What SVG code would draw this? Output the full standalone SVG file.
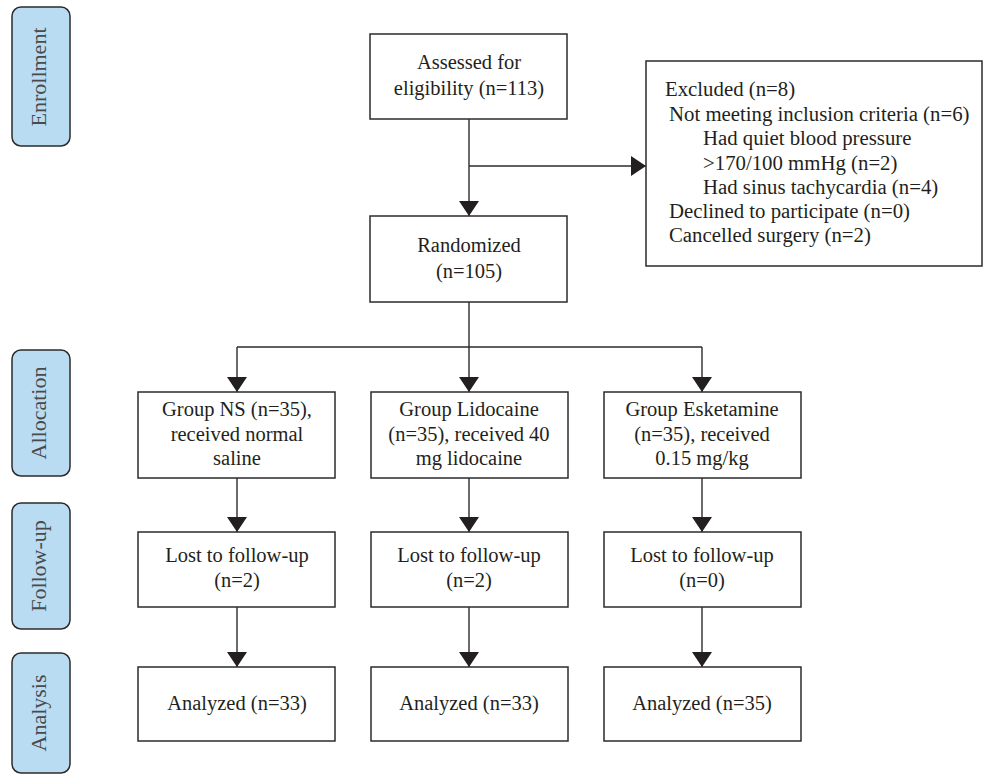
<svg xmlns="http://www.w3.org/2000/svg" width="984" height="775" viewBox="0 0 984 775">
<style>
  .box { fill: #ffffff; stroke: #2b2b2b; stroke-width: 1.5; }
  .pill { fill: #b9dcf3; stroke: #2b2b2b; stroke-width: 1.5; }
  .t { font-family: "Liberation Serif", "Times New Roman", serif; font-size: 20.5px; fill: #231f20; }
  .c { text-anchor: middle; }
  .pt { font-family: "Liberation Serif", "Times New Roman", serif; font-size: 22px; fill: #4a4a4a; text-anchor: middle; }
  .ln { fill: none; stroke: #2b2b2b; stroke-width: 1.4; }
</style>
<defs>
  <marker id="arr" viewBox="0 0 15 20" refX="15" refY="10" markerWidth="15" markerHeight="20" markerUnits="userSpaceOnUse" orient="auto">
    <path d="M0,0 L15,10 L0,20 Z" fill="#231f20"/>
  </marker>
</defs>
<rect width="984" height="775" fill="#ffffff"/>

<g id="stage-enrollment">
  <rect class="pill" x="12" y="7" width="58" height="139" rx="9"/>
  <text class="pt" transform="translate(46,77) rotate(-90)">Enrollment</text>
</g>
<g id="stage-allocation">
  <rect class="pill" x="12" y="350" width="58" height="126" rx="9"/>
  <text class="pt" transform="translate(46,413) rotate(-90)">Allocation</text>
</g>
<g id="stage-followup">
  <rect class="pill" x="12" y="503" width="58" height="126" rx="9"/>
  <text class="pt" transform="translate(46,566) rotate(-90)">Follow-up</text>
</g>
<g id="stage-analysis">
  <rect class="pill" x="12" y="653" width="58" height="120" rx="9"/>
  <text class="pt" transform="translate(46,713) rotate(-90)">Analysis</text>
</g>

<g id="connectors">
  <line class="ln" x1="469" y1="119" x2="469" y2="216" marker-end="url(#arr)"/>
  <line class="ln" x1="469" y1="166" x2="646" y2="166" marker-end="url(#arr)"/>
  <polyline class="ln" points="469,302 469,347"/>
  <polyline class="ln" points="237,347 702,347"/>
  <line class="ln" x1="237" y1="347" x2="237" y2="392" marker-end="url(#arr)"/>
  <line class="ln" x1="469" y1="347" x2="469" y2="392" marker-end="url(#arr)"/>
  <line class="ln" x1="702" y1="347" x2="702" y2="392" marker-end="url(#arr)"/>
  <line class="ln" x1="237" y1="478" x2="237" y2="532" marker-end="url(#arr)"/>
  <line class="ln" x1="469" y1="478" x2="469" y2="532" marker-end="url(#arr)"/>
  <line class="ln" x1="702" y1="478" x2="702" y2="532" marker-end="url(#arr)"/>
  <line class="ln" x1="237" y1="607" x2="237" y2="667" marker-end="url(#arr)"/>
  <line class="ln" x1="469" y1="607" x2="469" y2="667" marker-end="url(#arr)"/>
  <line class="ln" x1="702" y1="607" x2="702" y2="667" marker-end="url(#arr)"/>
</g>

<g id="assessed">
  <rect class="box" x="370" y="34" width="197" height="85"/>
  <text class="t c" x="469" y="69">Assessed for</text>
  <text class="t c" x="469" y="95">eligibility (n=113)</text>
</g>
<g id="excluded">
  <rect class="box" x="646" y="61" width="336" height="205"/>
  <text class="t" x="665" y="96" style="font-size:20.8px">Excluded (n=8)</text>
  <text class="t" x="669" y="120.5" style="font-size:20.8px">Not meeting inclusion criteria (n=6)</text>
  <text class="t" x="703" y="145" style="font-size:20.8px">Had quiet blood pressure</text>
  <text class="t" x="703" y="169.5" style="font-size:20.8px">&gt;170/100 mmHg (n=2)</text>
  <text class="t" x="703" y="193.5" style="font-size:20.8px">Had sinus tachycardia (n=4)</text>
  <text class="t" x="669" y="217.5" style="font-size:20.8px">Declined to participate (n=0)</text>
  <text class="t" x="669" y="241.5" style="font-size:20.8px">Cancelled surgery (n=2)</text>
</g>
<g id="randomized">
  <rect class="box" x="370" y="216" width="197" height="86"/>
  <text class="t c" x="469" y="252">Randomized</text>
  <text class="t c" x="469" y="278">(n=105)</text>
</g>

<g id="alloc-ns">
  <rect class="box" x="138" y="392" width="197" height="86"/>
  <text class="t c" x="237" y="416">Group NS (n=35),</text>
  <text class="t c" x="237" y="440.5">received normal</text>
  <text class="t c" x="237" y="465">saline</text>
</g>
<g id="alloc-lido">
  <rect class="box" x="371" y="392" width="197" height="86"/>
  <text class="t c" x="469" y="416">Group Lidocaine</text>
  <text class="t c" x="469" y="440.5">(n=35), received 40</text>
  <text class="t c" x="469" y="465">mg lidocaine</text>
</g>
<g id="alloc-esk">
  <rect class="box" x="604" y="392" width="197" height="86"/>
  <text class="t c" x="702" y="416">Group Esketamine</text>
  <text class="t c" x="702" y="440.5">(n=35), received</text>
  <text class="t c" x="702" y="465">0.15 mg/kg</text>
</g>

<g id="follow-ns">
  <rect class="box" x="138" y="532" width="197" height="75"/>
  <text class="t c" x="237" y="562">Lost to follow-up</text>
  <text class="t c" x="237" y="587">(n=2)</text>
</g>
<g id="follow-lido">
  <rect class="box" x="371" y="532" width="197" height="75"/>
  <text class="t c" x="469" y="562">Lost to follow-up</text>
  <text class="t c" x="469" y="587">(n=2)</text>
</g>
<g id="follow-esk">
  <rect class="box" x="604" y="532" width="197" height="75"/>
  <text class="t c" x="702" y="562">Lost to follow-up</text>
  <text class="t c" x="702" y="587">(n=0)</text>
</g>

<g id="analysis-ns">
  <rect class="box" x="138" y="667" width="197" height="74"/>
  <text class="t c" x="237" y="710">Analyzed (n=33)</text>
</g>
<g id="analysis-lido">
  <rect class="box" x="371" y="667" width="197" height="74"/>
  <text class="t c" x="469" y="710">Analyzed (n=33)</text>
</g>
<g id="analysis-esk">
  <rect class="box" x="604" y="667" width="197" height="74"/>
  <text class="t c" x="702" y="710">Analyzed (n=35)</text>
</g>
</svg>
